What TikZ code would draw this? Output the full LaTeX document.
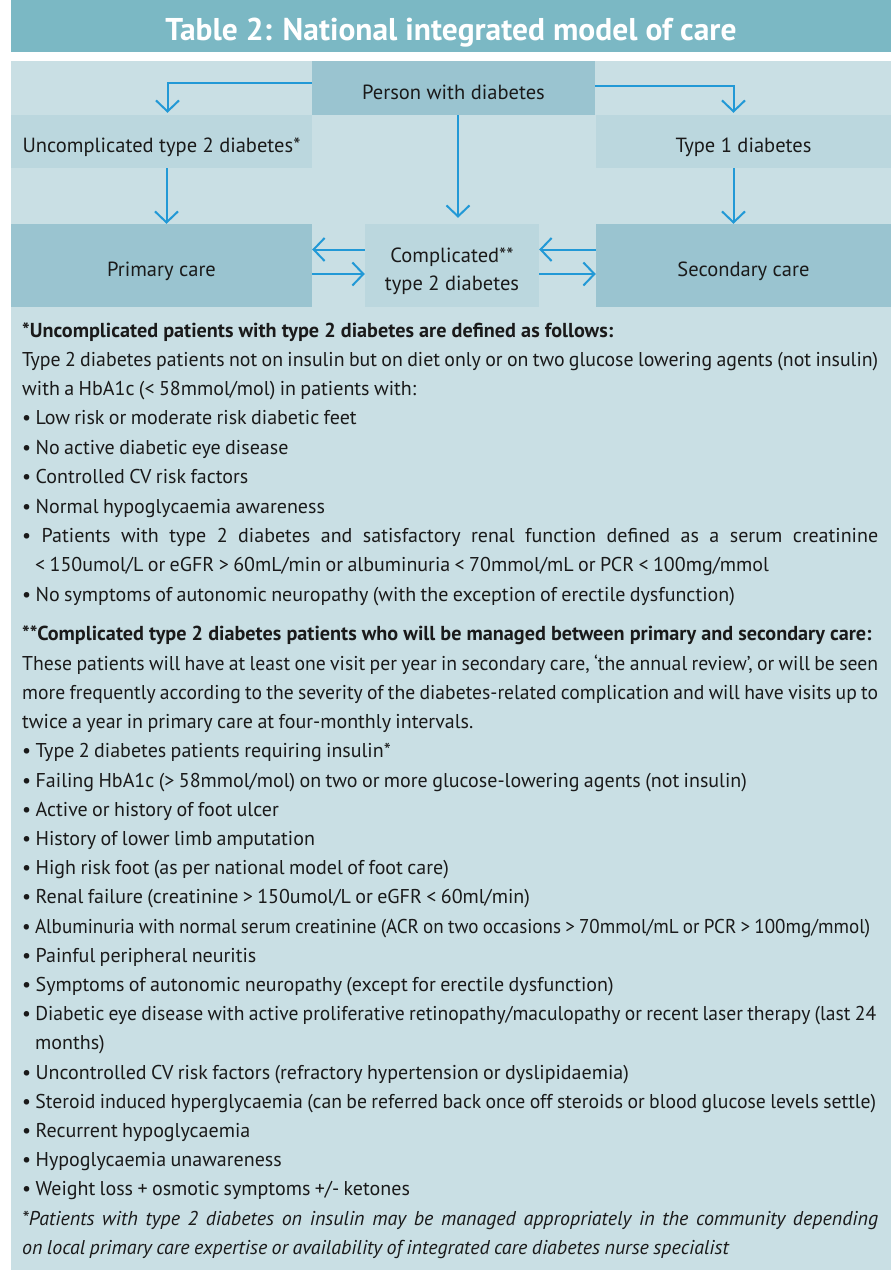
\documentclass[tikz,border=0pt]{standalone}
\usepackage{fontspec}
\setmainfont{PT Sans}
\usetikzlibrary{arrows.meta}

\definecolor{titlebar}{HTML}{7BB8C4}
\definecolor{panel}{HTML}{C9DFE4}
\definecolor{boxdark}{HTML}{9AC4D0}
\definecolor{boxlight}{HTML}{BBD7DE}
\definecolor{flowblue}{HTML}{2299D6}
\definecolor{ink}{HTML}{1A1A1A}
\setlength{\parindent}{0pt}

% narrow word spaces of the notes
\newcommand{\notespacing}{\spaceskip=0.22em plus 0.4em minus 0.04em\relax}
% one justified line of the notes: spread the spaces, or squeeze if too long
\newlength{\linenat}
\newcommand{\fullline}[2][856pt]{\settowidth{\linenat}{#2}%
        \ifdim\linenat>#1\relax\resizebox{#1}{\height}{#2}\else\makebox[#1][s]{#2}\fi}

\begin{document}
\begin{tikzpicture}[x=1pt, y=-1pt,
                every node/.style={inner sep=0pt, text=ink, font=\fontsize{20.5}{28}\selectfont},
                darkbox/.style={fill=boxdark, minimum width=#1, text height=22pt, text depth=0pt},
                lightbox/.style={fill=boxlight, minimum width=#1, text height=22pt, text depth=0pt},
                heading/.style={anchor=base west, font=\bfseries\fontsize{20.2}{29.4}\selectfont},
                notes/.style={anchor=north west, text width=858pt, align=left, font=\fontsize{20}{29.4}\selectfont},
                flow/.style={draw=flowblue, line width=2pt, -{Straight Barb[length=11pt, width=23pt]}}]

        \useasboundingbox (0,0) rectangle (891,1270);

        % Background
        \fill[titlebar] (11,0) rectangle (891,52);
        \fill[panel] (11,61) rectangle (891,1270);
        \node[anchor=base, text=white, font=\bfseries\fontsize{31.5}{34}\selectfont] (title) at (451,40) {Table 2: National integrated model of care};

        % Define nodes
        \node[darkbox=283pt, minimum height=54pt] (person) at (453.5,88) {Person with diabetes}; % Top
        \node[lightbox=301pt, minimum height=53pt] (uncomp) at (161.5,141.5) {Uncomplicated type 2 diabetes*};
        \node[lightbox=295pt, minimum height=53pt] (typeone) at (743.5,141.5) {Type 1 diabetes};
        \node[darkbox=301pt, minimum height=83pt] (primary) at (161.5,265.5) {Primary care};
        \node[lightbox=174pt, minimum height=83pt, align=center, text height=50pt, text depth=1pt] (comp) at (452,265.5)
                {\notespacing Complicated**\\type 2 diabetes};
        \node[darkbox=295pt, minimum height=83pt] (secondary) at (743.5,265.5) {Secondary care};

        % Define edges
        \draw[flow] ([yshift=5pt]person.west) -| ([xshift=6pt,yshift=2pt]uncomp.north);
        \draw[flow] ([yshift=2pt]person.east) -| ([xshift=-10pt,yshift=2pt]typeone.north);
        \draw[flow, shorten >=6pt] ([xshift=4.5pt]person.south) -- ([xshift=4.5pt]person.south |- comp.north);
        \draw[flow] ([xshift=5pt]uncomp.south) -- ([xshift=5pt]uncomp.south |- primary.north);
        \draw[flow] ([xshift=-10pt]typeone.south) -- ([xshift=-10pt]typeone.south |- secondary.north);
        \draw[flow] ([yshift=16pt]comp.west) -- ([yshift=16pt]comp.west -| primary.east);
        \draw[flow] ([yshift=-8.5pt]comp.west -| primary.east) -- ([yshift=-8.5pt]comp.west);
        \draw[flow] ([yshift=16pt]comp.east -| secondary.west) -- ([yshift=16pt]comp.east);
        \draw[flow] ([yshift=-8.5pt]comp.east) -- ([yshift=-8.5pt]comp.east -| secondary.west);

        % Notes on uncomplicated patients
        \node[heading] (headone) at (22,337) {*Uncomplicated patients with type 2 diabetes are defined as follows:};
        \node[notes] (listone) at (22,345.4) {\notespacing\strut
                \fullline{Type 2 diabetes patients not on insulin but on diet only or on two glucose lowering agents (not insulin)}\\
                with a HbA1c (< 58mmol/mol) in patients with:\\
                • Low risk or moderate risk diabetic feet\\
                • No active diabetic eye disease\\
                • Controlled CV risk factors\\
                • Normal hypoglycaemia awareness\\
                \fullline{• Patients with type 2 diabetes and satisfactory renal function defined as a serum creatinine}\\
                \hspace*{13pt}< 150umol/L or eGFR > 60mL/min or albuminuria < 70mmol/mL or PCR < 100mg/mmol\\
                • No symptoms of autonomic neuropathy (with the exception of erectile dysfunction)};

        % Notes on complicated patients
        \node[heading] (headtwo) at (22,640) {**Complicated type 2 diabetes patients who will be managed between primary and secondary care:};
        \node[notes, font=\fontsize{20}{29.2}\selectfont] (listtwo) at (22,649.6) {\notespacing\strut
                \fullline{These patients will have at least one visit per year in secondary care, ‘the annual review’, or will be seen}\\
                \fullline{more frequently according to the severity of the diabetes-related complication and will have visits up to}\\
                twice a year in primary care at four-monthly intervals.\\
                • Type 2 diabetes patients requiring insulin*\\
                • Failing HbA1c (> 58mmol/mol) on two or more glucose-lowering agents (not insulin)\\
                • Active or history of foot ulcer\\
                • History of lower limb amputation\\
                • High risk foot (as per national model of foot care)\\
                • Renal failure (creatinine > 150umol/L or eGFR < 60ml/min)\\
                \fullline[848pt]{• Albuminuria with normal serum creatinine (ACR on two occasions > 70mmol/mL or PCR > 100mg/mmol)}\\
                • Painful peripheral neuritis\\
                • Symptoms of autonomic neuropathy (except for erectile dysfunction)\\
                \fullline[854pt]{• Diabetic eye disease with active proliferative retinopathy/maculopathy or recent laser therapy (last 24}\\
                \hspace*{13pt}months)\\
                • Uncontrolled CV risk factors (refractory hypertension or dyslipidaemia)\\
                \fullline[854pt]{• Steroid induced hyperglycaemia (can be referred back once off steroids or blood glucose levels settle)}\\
                • Recurrent hypoglycaemia\\
                • Hypoglycaemia unawareness\\
                • Weight loss + osmotic symptoms +/- ketones\\
                \itshape\fullline{*Patients with type 2 diabetes on insulin may be managed appropriately in the community depending}\\
                on local primary care expertise or availability of integrated care diabetes nurse specialist};
        \end{tikzpicture}
\end{document}
